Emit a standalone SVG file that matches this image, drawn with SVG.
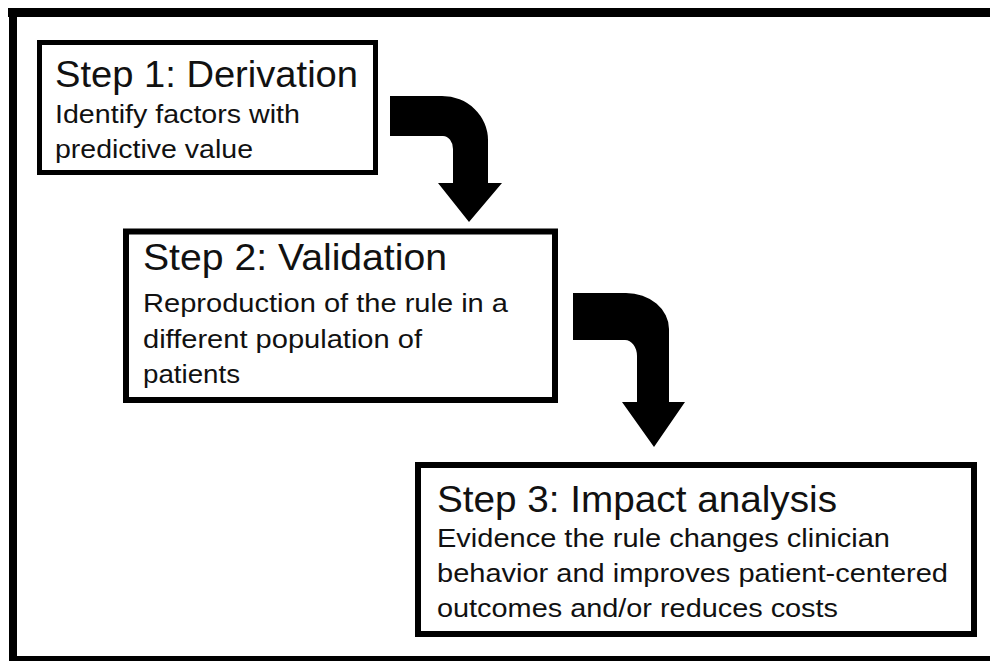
<svg xmlns="http://www.w3.org/2000/svg" width="990" height="661" viewBox="0 0 990 661">
<style>
.box{fill:#fff;stroke:#000;}
.t{font-family:"Liberation Sans",Arial,Helvetica,sans-serif;fill:#111;}
.title{font-size:37px;}
.body{font-size:26px;}
.arrow{fill:#000;}
</style>
<rect x="0" y="0" width="990" height="661" fill="#fff"/>
<g id="frame">
<rect x="8" y="8" width="982" height="9" fill="#000"/>
<rect x="9" y="8" width="8" height="653" fill="#000"/>
<rect x="9" y="656" width="981" height="5" fill="#000"/>
</g>
<g id="step1">
<rect class="box" x="39.5" y="42.5" width="336" height="130" stroke-width="5"/>
<text class="t title" x="55" y="87" textLength="303" lengthAdjust="spacingAndGlyphs">Step 1: Derivation</text>
<text class="t body" x="55" y="123" textLength="245" lengthAdjust="spacingAndGlyphs">Identify factors with</text>
<text class="t body" x="55" y="158" textLength="198" lengthAdjust="spacingAndGlyphs">predictive value</text>
</g>
<g id="step2">
<rect class="box" x="126" y="231.5" width="429" height="168.5" stroke-width="6"/>
<text class="t title" x="143" y="270" textLength="304" lengthAdjust="spacingAndGlyphs">Step 2: Validation</text>
<text class="t body" x="143" y="312" textLength="365" lengthAdjust="spacingAndGlyphs">Reproduction of the rule in a</text>
<text class="t body" x="143" y="348" textLength="279" lengthAdjust="spacingAndGlyphs">different population of</text>
<text class="t body" x="143" y="383" textLength="97" lengthAdjust="spacingAndGlyphs">patients</text>
</g>
<g id="step3">
<rect class="box" x="418" y="465" width="556" height="169" stroke-width="6"/>
<text class="t title" x="437" y="512" textLength="400" lengthAdjust="spacingAndGlyphs">Step 3: Impact analysis</text>
<text class="t body" x="437" y="547" textLength="453" lengthAdjust="spacingAndGlyphs">Evidence the rule changes clinician</text>
<text class="t body" x="437" y="582" textLength="511" lengthAdjust="spacingAndGlyphs">behavior and improves patient-centered</text>
<text class="t body" x="437" y="617" textLength="401" lengthAdjust="spacingAndGlyphs">outcomes and/or reduces costs</text>
</g>
<g id="connectors">
<path id="arrow1" class="arrow" d="M390,96 H442 A46,44 0 0 1 488,140 V183 H502 L469,222 L438,183 H453 V149 A10,13 0 0 0 443,136 H390 Z"/>
<path id="arrow2" class="arrow" d="M573,293 H626 A43,36 0 0 1 669,329 V402 H685 L654,447 L622,402 H637 V356 A12,16 0 0 0 625,340 H573 Z"/>
</g>
</svg>
